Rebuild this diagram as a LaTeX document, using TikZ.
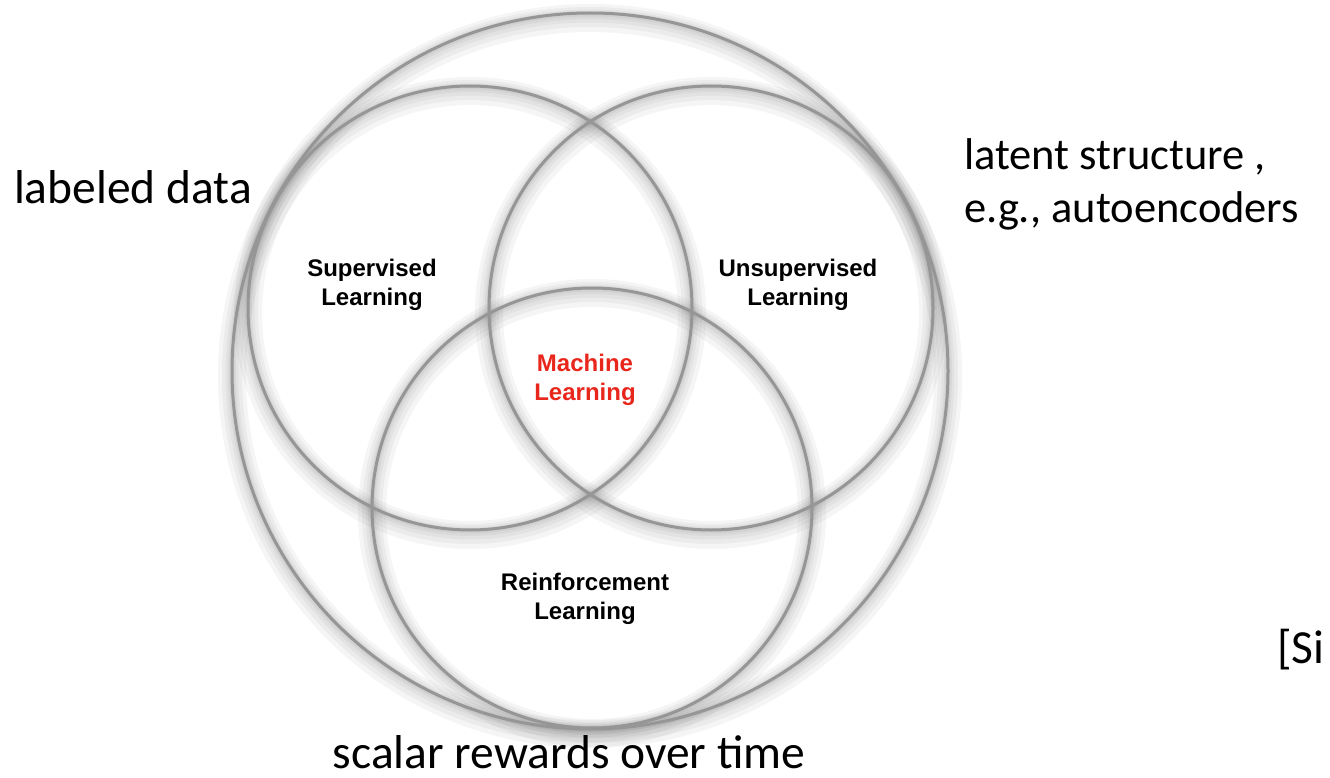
\documentclass[tikz,border=0pt]{standalone}
\usepackage{fontspec}
\setmainfont{Liberation Sans}
\newfontfamily\calfont{Carlito}
\definecolor{ringgray}{RGB}{150,150,150}
\definecolor{mlred}{RGB}{232,38,28}
\begin{document}
\begin{tikzpicture}[x=1pt,y=-1pt,
  ring/.style={circle, draw=ringgray, line width=3pt, inner sep=0pt, minimum size=#1},
  glow/.style={draw=black, opacity=0.04, line width=#1},
  inlabel/.style={font=\fontsize{24}{28.5}\selectfont\bfseries, align=center, text=black},
  outlabel/.style={font=\calfont\fontsize{47.5}{53}\selectfont, text=black, inner sep=1pt}]
\useasboundingbox (0,0) rectangle (1330,778);
% shadows
\foreach \cx/\cy/\r in {590/371/358, 470/308/222, 711/308/222, 592/508/220}{
  \draw[glow=28pt] (\cx,\cy+5) circle (\r);
  \draw[glow=20pt] (\cx,\cy+4) circle (\r);
  \draw[glow=13pt] (\cx,\cy+3) circle (\r);
  \draw[glow=8pt] (\cx,\cy+2) circle (\r);
  \draw[glow=5pt] (\cx,\cy+1) circle (\r);
}
\node[ring=716pt] (all) at (590,371) {};
\node[ring=444pt] (sup) at (470,308) {};
\node[ring=444pt] (uns) at (711,308) {};
\node[ring=440pt] (rl) at (592,508) {};
\node[inlabel] (supl) at (372,285) {Supervised\\Learning};
\node[inlabel] (unsl) at (798,285) {Unsupervised\\Learning};
\node[inlabel, text=mlred] (ml) at (585,380) {Machine\\Learning};
\node[inlabel] (rll) at (585,599) {Reinforcement\\Learning};
\node[outlabel] (lab) at (133,187) {labeled data};
\node[outlabel, font=\calfont\fontsize{44.5}{53}\selectfont, align=left, anchor=west] (lat) at (963,184) {latent structure ,\\e.g., autoencoders};
\node[outlabel] (sca) at (569,752) {scalar rewards over time};
\node[outlabel, anchor=west] (si) at (1276,650) {[Si};
\end{tikzpicture}
\end{document}
